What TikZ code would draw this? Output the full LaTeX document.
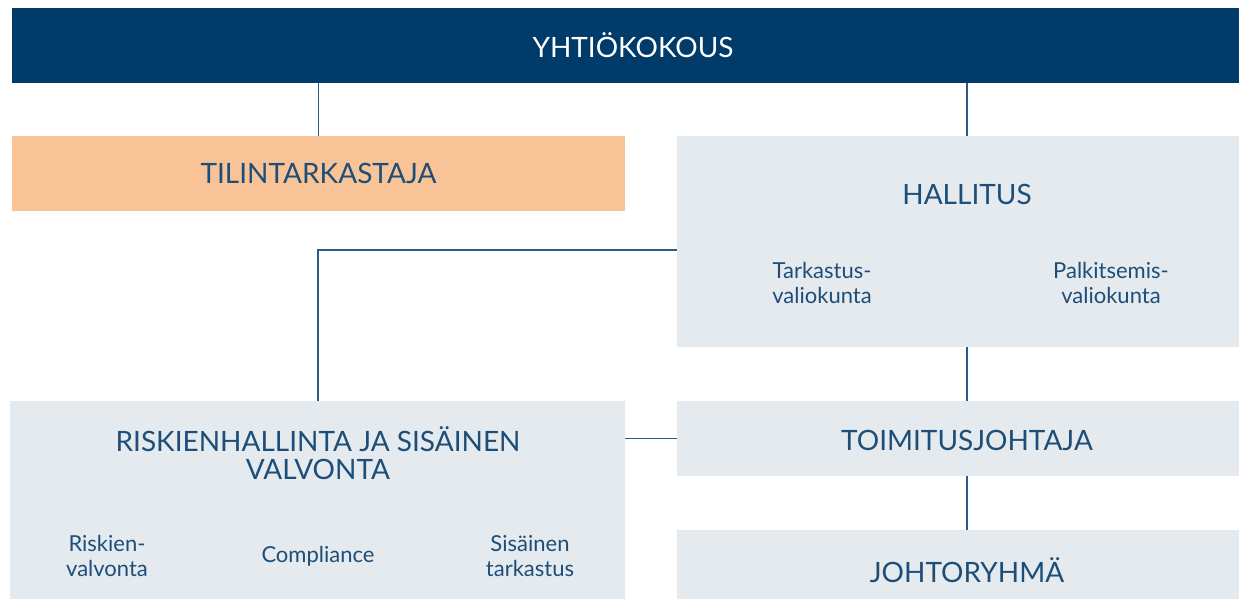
\documentclass[tikz,border=0pt]{standalone}
\usepackage{fontspec}
\setmainfont{Lato}
\usetikzlibrary{positioning}
\definecolor{laivasto}{HTML}{003B69}
\definecolor{oranssi}{HTML}{F8C397}
\definecolor{harmaa}{HTML}{E5EAEF}
\definecolor{teksti}{HTML}{1D4E78}
\definecolor{viiva}{HTML}{2A5A85}
\tikzset{
  laatikko/.style={fill=harmaa, inner sep=0pt},
  otsikko/.style={text=teksti, font=\fontsize{28}{28}\selectfont, align=center},
  alaosa/.style={text=teksti, font=\fontsize{22}{25}\selectfont, align=center},
  yhteys/.style={draw=viiva, line width=1.6pt}
}
\begin{document}
\begin{tikzpicture}[x=1pt,y=-1pt]
	\useasboundingbox (0,0) rectangle (1239,599);
	% laatikot
	\node[fill=laivasto, minimum width=1227pt, minimum height=75pt] (yhtio) at (625.5,45.5) {};
	\node[fill=oranssi, minimum width=613pt, minimum height=75pt, otsikko] (tili) at (318.5,173.5) {TILINTARKASTAJA};
	\node[laatikko, minimum width=562pt, minimum height=211pt] (hall) at (958,241.5) {};
	\node[laatikko, minimum width=615pt, minimum height=198pt] (riski) at (317.5,500) {};
	\node[laatikko, minimum width=562pt, minimum height=75pt] (toim) at (958,438.5) {};
	\node[laatikko, minimum width=562pt, minimum height=69pt] (johto) at (958,564.5) {};
	% tekstit
	\node[otsikko, text=white] (yhtioteksti) at (633,45.5) {YHTIÖKOKOUS};
	\node[otsikko] (hallteksti) at (967,194) {HALLITUS};
	\node[alaosa] (tarkvk) at (822,283) {Tarkastus-\\valiokunta};
	\node[alaosa] (palkvk) at (1111,283) {Palkitsemis-\\valiokunta};
	\node[otsikko] (toimteksti) at (967,440) {TOIMITUSJOHTAJA};
	\node[otsikko] (riskiteksti) at (318,453) {RISKIENHALLINTA JA SISÄINEN\\VALVONTA};
	\node[alaosa] (riskval) at (107,556) {Riskien-\\valvonta};
	\node[alaosa] (compl) at (318,556) {Compliance};
	\node[alaosa] (sistark) at (530,556) {Sisäinen\\tarkastus};
	\node[otsikko] (johtoteksti) at (967,570) {JOHTORYHMÄ};
	% yhteydet
	\coordinate (selka) at (967,0);
	\coordinate (kulma) at (318,250);
	\draw[yhteys] (tili.north) -- (tili.north |- yhtio.south);
	\draw[yhteys] (yhtio.south -| selka) -- (hall.north -| selka);
	\draw[yhteys] (hall.west |- kulma) -- (kulma) -- (riski.north -| kulma);
	\draw[yhteys] (hall.south -| selka) -- (toim.north -| selka);
	\draw[yhteys] (riski.east |- toim.west) -- (toim.west);
	\draw[yhteys] (toim.south -| selka) -- (johto.north -| selka);
\end{tikzpicture}
\end{document}
